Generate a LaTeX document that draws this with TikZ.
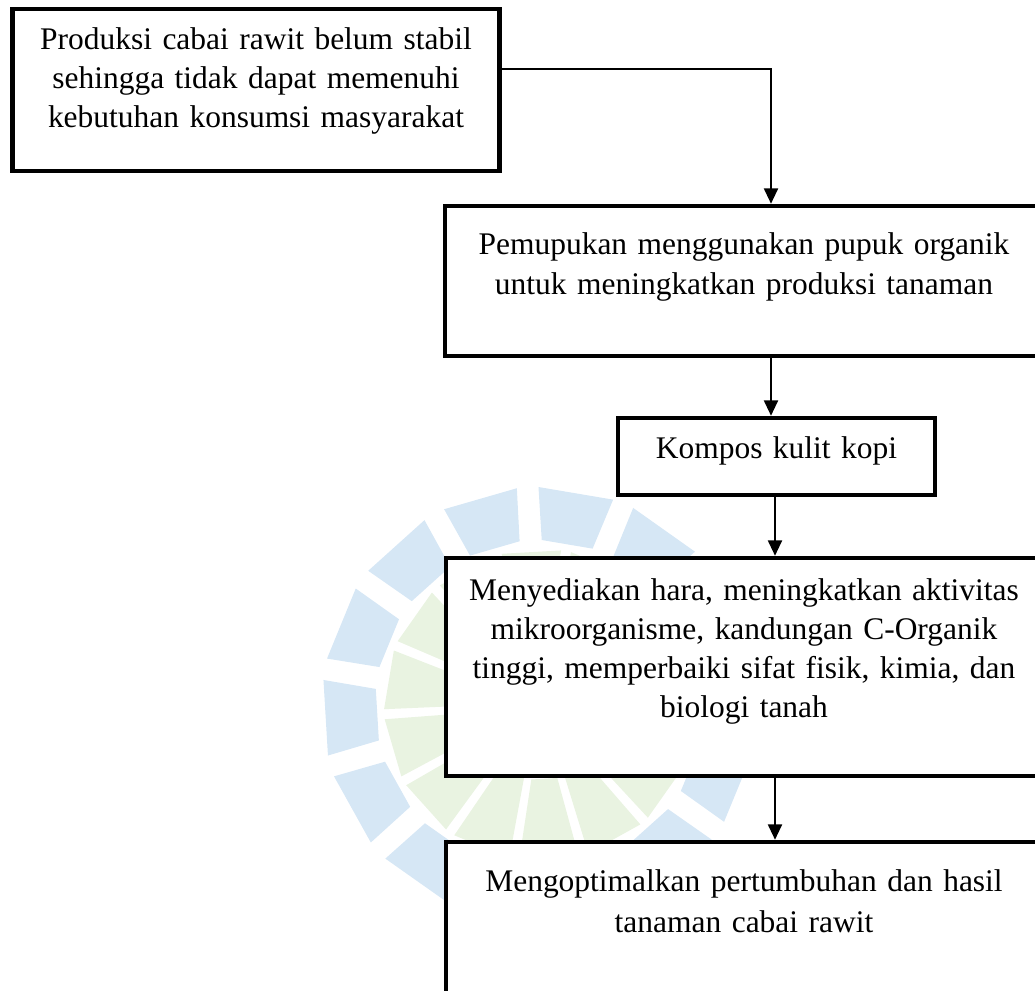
\documentclass[tikz,border=0pt]{standalone}
\usepackage{fontspec}
\setmainfont{Liberation Serif}
\usetikzlibrary{arrows.meta,fit}
\definecolor{wmblue}{RGB}{214,231,245}
\definecolor{wmgreen}{RGB}{233,243,225}
\tikzset{
  boxst/.style={draw=black, line width=3.4pt, fill=white, inner sep=0pt, rectangle},
  txt/.style={inner sep=0pt, align=center, text width=560pt, anchor=base},
  conn/.style={line width=1.5pt, -{Triangle[width=10.5pt,length=11.5pt]}},
}
\begin{document}
\begin{tikzpicture}[x=0.75pt,y=-0.75pt]
\useasboundingbox (0,0) rectangle (1035,991);
\begin{scope}
\clip (0,0) rectangle (1035,991);
% faint watermark
\begin{scope}[shift={(540,705)},yscale=-1]
  \foreach \a in {0,...,13} {
    \pgfmathsetmacro\ang{132+25.7*\a}
    \fill[wmblue] (\ang-9:165) -- (\ang-10:218) -- (\ang+10:218) -- (\ang+9:165) -- cycle;
    \pgfmathsetmacro\bng{132+25.7*\a+12.85}
    \fill[wmgreen] (\bng-10:75) -- (\bng-11:156) -- (\bng+11:156) -- (\bng+10:75) -- cycle;
  }
\end{scope}
% boxes
\node[boxst, fit={(12.5,9) (499.5,171)}] (b1) {};
\node[boxst, fit={(445,206) (1041,356)}] (b2) {};
\node[boxst, fit={(618,418) (935,495)}] (b3) {};
\node[boxst, fit={(446,558) (1043,776)}] (b4) {};
\node[boxst, fit={(446,842) (1043,1010)}] (b5) {};
\end{scope}
% texts
\node[txt, font=\fontsize{23.6}{29}\selectfont] (t1) at (256,50)
  {Produksi cabai rawit belum stabil\\sehingga tidak dapat memenuhi\\kebutuhan konsumsi masyarakat};
\node[txt, font=\fontsize{23.6}{30}\selectfont] (t2) at (744,255)
  {Pemupukan menggunakan pupuk organik\\untuk meningkatkan produksi tanaman};
\node[txt, font=\fontsize{23.6}{29}\selectfont] (t3) at (776.5,458)
  {Kompos kulit kopi};
\node[txt, font=\fontsize{23.6}{29.25}\selectfont] (t4) at (744,600)
  {Menyediakan hara, meningkatkan aktivitas\\mikroorganisme, kandungan C-Organik\\tinggi, memperbaiki sifat fisik, kimia, dan\\biologi tanah};
\node[txt, font=\fontsize{23.6}{31}\selectfont] (t5) at (744,891)
  {Mengoptimalkan pertumbuhan dan hasil\\tanaman cabai rawit};
% connectors
\coordinate (j1) at (771,69);
\coordinate (j2) at (775,0);
\draw[conn] (b1.east |- j1) -| (b2.north -| j1);
\draw[conn] (b2.south -| j1) -- (b3.north -| j1);
\draw[conn] (b3.south -| j2) -- (b4.north -| j2);
\draw[conn] (b4.south -| j2) -- (b5.north -| j2);
\end{tikzpicture}
\end{document}
